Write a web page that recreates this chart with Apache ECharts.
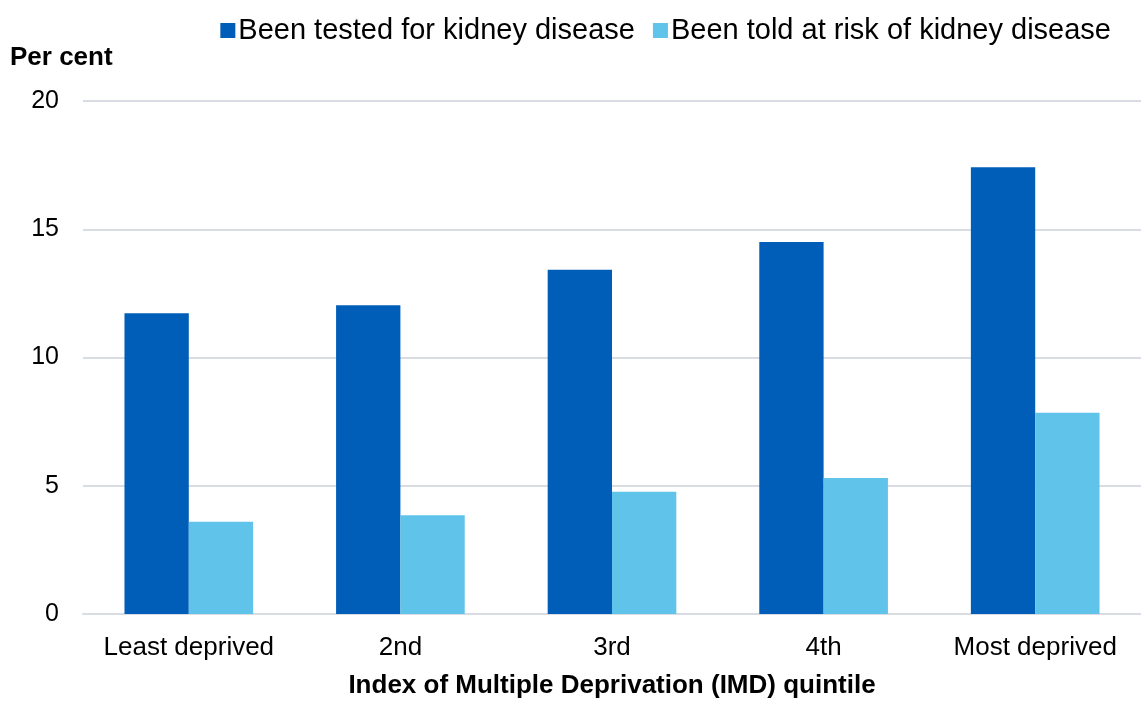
<!DOCTYPE html>
<html><head><meta charset="utf-8">
<script src="https://cdn.jsdelivr.net/npm/echarts@6/dist/echarts.min.js"></script>
<style>html,body{margin:0;padding:0;background:#fff;overflow:hidden}#c{width:1141px;height:704px}</style>
</head><body><div id="c"></div>
<script>
const categories = ['Least deprived', '2nd', '3rd', '4th', 'Most deprived'];
const testedValues = [11.73, 12.04, 13.42, 14.5, 17.42];
const toldValues = [3.6, 3.85, 4.77, 5.3, 7.85];
const seriesNames = ['Been tested for kidney disease', 'Been told at risk of kidney disease'];
const yTicks = { min: 0, max: 20, interval: 5 };

const chart = echarts.init(document.getElementById('c'));
const font = 'Liberation Sans, Arial, sans-serif';
chart.setOption({
  animation: false,
  textStyle: { fontFamily: font },
  legend: {
    top: 11, right: 25, itemWidth: 15, itemHeight: 15, itemGap: 18,
    icon: 'rect',
    textStyle: { fontSize: 29, color: '#000', fontFamily: font, padding: [0, 0, 0, -2] },
    data: seriesNames
  },
  grid: { left: 83, width: 1069, top: 101, height: 520, containLabel: false },
  xAxis: {
    type: 'category', data: categories,
    axisLine: { show: true, lineStyle: { color: '#D9DDE3', width: 2 } },
    axisTick: { show: false },
    axisLabel: { interval: 0, fontSize: 26, color: '#000', margin: 21, fontFamily: font },
    name: 'Index of Multiple Deprivation (IMD) quintile',
    nameLocation: 'middle', nameGap: 59,
    nameTextStyle: { fontSize: 26, fontWeight: 'bold', color: '#000', fontFamily: font }
  },
  yAxis: {
    type: 'value', min: yTicks.min, max: yTicks.max, interval: yTicks.interval,
    axisLine: { show: false }, axisTick: { show: false },
    splitLine: { lineStyle: { color: '#D9DDE3', width: 2 } },
    axisLabel: { fontSize: 25, color: '#000', margin: 24, fontFamily: font },
    name: 'Per cent', nameLocation: 'end', nameGap: 30,
    nameTextStyle: { fontSize: 26, fontWeight: 'bold', color: '#000', align: 'left', padding: [0, 0, 0, -73], fontFamily: font }
  },
  series: [
    { name: seriesNames[0], type: 'bar', data: testedValues, barWidth: '30.4%', barGap: '0%',
      itemStyle: { color: '#005EB8' } },
    { name: seriesNames[1], type: 'bar', data: toldValues, barWidth: '30.4%', barGap: '0%',
      itemStyle: { color: '#5FC3EA' } }
  ]
});
</script></body></html>
